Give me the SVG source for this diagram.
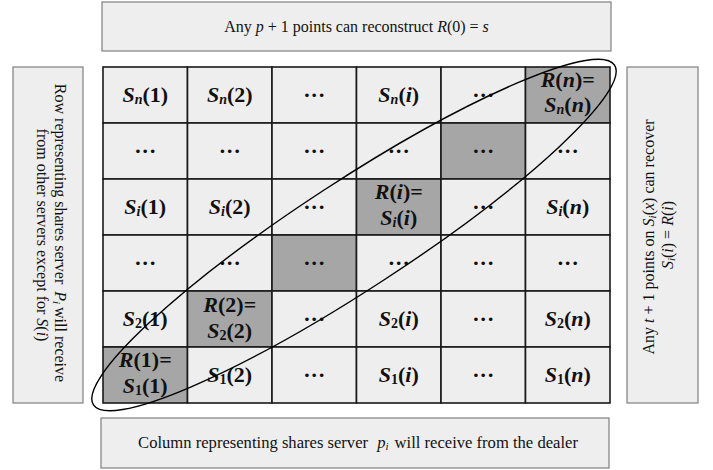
<svg xmlns="http://www.w3.org/2000/svg" width="713" height="470" viewBox="0 0 713 470">
  <style>
    .box { fill: #eeeeee; stroke: #7f7f7f; stroke-width: 1.2; }
    .cell { fill: #eeeeee; stroke: #1a1a1a; stroke-width: 1.6; }
    .key { fill: #a6a6a6; stroke: #1a1a1a; stroke-width: 1.6; }
    .c { font-family: "Liberation Serif", "Times New Roman", serif; font-size: 22px; font-weight: bold; text-anchor: middle; fill: #111; }
    .t { font-family: "Liberation Serif", "Times New Roman", serif; font-size: 16px; text-anchor: middle; fill: #111; }
    .i { font-style: italic; }
    .sb { font-size: 14px; }
    .ts { font-size: 11px; }
    .ring { fill: none; stroke: #000; stroke-width: 1.4; }
  </style>

  <!-- caption boxes -->
  <g id="top-note">
    <rect class="box" x="102" y="2" width="509" height="49"/>
    <text class="t" x="356.5" y="32">Any <tspan class="i">p</tspan> + 1 points can reconstruct <tspan class="i">R</tspan>(0) = <tspan class="i">s</tspan></text>
  </g>
  <g id="bottom-note">
    <rect class="box" x="101" y="418" width="508" height="50"/>
    <text class="t" x="358" y="448" style="font-size:16.6px">Column representing shares server <tspan class="i" dx="5">p</tspan><tspan class="i ts" dy="2">i</tspan><tspan dy="-2" dx="6">will receive from the dealer</tspan></text>
  </g>
  <g id="left-note">
    <rect class="box" x="13" y="67" width="70" height="336"/>
    <text class="t" transform="translate(55,235) rotate(90)">
      <tspan x="0" y="0">Row representing shares server <tspan class="i" dx="3">P</tspan><tspan class="i ts" dy="2">i</tspan><tspan dy="-2" dx="3">will receive</tspan></tspan>
      <tspan x="0" y="18">from other servers except for <tspan class="i">S</tspan>(<tspan class="i">i</tspan>)</tspan>
    </text>
  </g>
  <g id="right-note">
    <rect class="box" x="627" y="67" width="71" height="336"/>
    <text class="t" transform="translate(654,235) rotate(-90)">
      <tspan x="0" y="0">Any <tspan class="i">t</tspan> + 1 points on <tspan class="i">S</tspan><tspan class="i ts" dy="2">i</tspan><tspan dy="-2">(</tspan><tspan class="i">x</tspan>) can recover</tspan>
      <tspan x="0" y="19"><tspan class="i">S</tspan><tspan class="i ts" dy="2">i</tspan><tspan dy="-2">(</tspan><tspan class="i">i</tspan>) = <tspan class="i">R</tspan>(<tspan class="i">i</tspan>)</tspan>
    </text>
  </g>

  <!-- share matrix: columns 84.5 wide from x=103, rows 56 high from y=67 -->
  <g id="row-n">
    <g id="cell-n-1"><rect class="cell" x="103" y="67" width="84.5" height="56"/><text class="c" x="145.25" y="102"><tspan class="i">S</tspan><tspan class="i sb" dy="2">n</tspan><tspan dy="-2">(1)</tspan></text></g>
    <g id="cell-n-2"><rect class="cell" x="187.5" y="67" width="84.5" height="56"/><text class="c" x="229.75" y="102"><tspan class="i">S</tspan><tspan class="i sb" dy="2">n</tspan><tspan dy="-2">(2)</tspan></text></g>
    <g id="cell-n-3"><rect class="cell" x="272" y="67" width="84.5" height="56"/><text class="c" x="314.25" y="102">···</text></g>
    <g id="cell-n-i"><rect class="cell" x="356.5" y="67" width="84.5" height="56"/><text class="c" x="398.75" y="102"><tspan class="i">S</tspan><tspan class="i sb" dy="2">n</tspan><tspan dy="-2">(</tspan><tspan class="i">i</tspan>)</text></g>
    <g id="cell-n-5"><rect class="cell" x="441" y="67" width="84.5" height="56"/><text class="c" x="483.25" y="102">···</text></g>
    <g id="cell-n-n"><rect class="key" x="525.5" y="67" width="84.5" height="56"/>
      <text class="c" x="567.75" y="87"><tspan class="i">R</tspan>(<tspan class="i">n</tspan>)=</text>
      <text class="c" x="567.75" y="112"><tspan class="i">S</tspan><tspan class="i sb" dy="2">n</tspan><tspan dy="-2">(</tspan><tspan class="i">n</tspan>)</text></g>
  </g>

  <g id="row-b">
    <g id="cell-b-1"><rect class="cell" x="103" y="123" width="84.5" height="56"/><text class="c" x="145.25" y="158">···</text></g>
    <g id="cell-b-2"><rect class="cell" x="187.5" y="123" width="84.5" height="56"/><text class="c" x="229.75" y="158">···</text></g>
    <g id="cell-b-3"><rect class="cell" x="272" y="123" width="84.5" height="56"/><text class="c" x="314.25" y="158">···</text></g>
    <g id="cell-b-4"><rect class="cell" x="356.5" y="123" width="84.5" height="56"/><text class="c" x="398.75" y="158">···</text></g>
    <g id="cell-b-5"><rect class="key" x="441" y="123" width="84.5" height="56"/><text class="c" x="483.25" y="158">···</text></g>
    <g id="cell-b-6"><rect class="cell" x="525.5" y="123" width="84.5" height="56"/><text class="c" x="567.75" y="158">···</text></g>
  </g>

  <g id="row-i">
    <g id="cell-i-1"><rect class="cell" x="103" y="179" width="84.5" height="56"/><text class="c" x="145.25" y="214"><tspan class="i">S</tspan><tspan class="i sb" dy="2">i</tspan><tspan dy="-2">(1)</tspan></text></g>
    <g id="cell-i-2"><rect class="cell" x="187.5" y="179" width="84.5" height="56"/><text class="c" x="229.75" y="214"><tspan class="i">S</tspan><tspan class="i sb" dy="2">i</tspan><tspan dy="-2">(2)</tspan></text></g>
    <g id="cell-i-3"><rect class="cell" x="272" y="179" width="84.5" height="56"/><text class="c" x="314.25" y="214">···</text></g>
    <g id="cell-i-i"><rect class="key" x="356.5" y="179" width="84.5" height="56"/>
      <text class="c" x="398.75" y="199"><tspan class="i">R</tspan>(<tspan class="i">i</tspan>)=</text>
      <text class="c" x="398.75" y="225"><tspan class="i">S</tspan><tspan class="i sb" dy="2">i</tspan><tspan dy="-2">(</tspan><tspan class="i">i</tspan>)</text></g>
    <g id="cell-i-5"><rect class="cell" x="441" y="179" width="84.5" height="56"/><text class="c" x="483.25" y="214">···</text></g>
    <g id="cell-i-n"><rect class="cell" x="525.5" y="179" width="84.5" height="56"/><text class="c" x="567.75" y="214"><tspan class="i">S</tspan><tspan class="i sb" dy="2">i</tspan><tspan dy="-2">(</tspan><tspan class="i">n</tspan>)</text></g>
  </g>

  <g id="row-d">
    <g id="cell-d-1"><rect class="cell" x="103" y="235" width="84.5" height="56"/><text class="c" x="145.25" y="270">···</text></g>
    <g id="cell-d-2"><rect class="cell" x="187.5" y="235" width="84.5" height="56"/><text class="c" x="229.75" y="270">···</text></g>
    <g id="cell-d-3"><rect class="key" x="272" y="235" width="84.5" height="56"/><text class="c" x="314.25" y="270">···</text></g>
    <g id="cell-d-4"><rect class="cell" x="356.5" y="235" width="84.5" height="56"/><text class="c" x="398.75" y="270">···</text></g>
    <g id="cell-d-5"><rect class="cell" x="441" y="235" width="84.5" height="56"/><text class="c" x="483.25" y="270">···</text></g>
    <g id="cell-d-6"><rect class="cell" x="525.5" y="235" width="84.5" height="56"/><text class="c" x="567.75" y="270">···</text></g>
  </g>

  <g id="row-2">
    <g id="cell-2-1"><rect class="cell" x="103" y="291" width="84.5" height="56"/><text class="c" x="145.25" y="326"><tspan class="i">S</tspan><tspan class="sb" dy="2">2</tspan><tspan dy="-2">(1)</tspan></text></g>
    <g id="cell-2-2"><rect class="key" x="187.5" y="291" width="84.5" height="56"/>
      <text class="c" x="229.75" y="312"><tspan class="i">R</tspan>(2)=</text>
      <text class="c" x="229.75" y="338"><tspan class="i">S</tspan><tspan class="sb" dy="2">2</tspan><tspan dy="-2">(2)</tspan></text></g>
    <g id="cell-2-3"><rect class="cell" x="272" y="291" width="84.5" height="56"/><text class="c" x="314.25" y="326">···</text></g>
    <g id="cell-2-i"><rect class="cell" x="356.5" y="291" width="84.5" height="56"/><text class="c" x="398.75" y="326"><tspan class="i">S</tspan><tspan class="sb" dy="2">2</tspan><tspan dy="-2">(</tspan><tspan class="i">i</tspan>)</text></g>
    <g id="cell-2-5"><rect class="cell" x="441" y="291" width="84.5" height="56"/><text class="c" x="483.25" y="326">···</text></g>
    <g id="cell-2-n"><rect class="cell" x="525.5" y="291" width="84.5" height="56"/><text class="c" x="567.75" y="326"><tspan class="i">S</tspan><tspan class="sb" dy="2">2</tspan><tspan dy="-2">(</tspan><tspan class="i">n</tspan>)</text></g>
  </g>

  <g id="row-1">
    <g id="cell-1-1"><rect class="key" x="103" y="347" width="84.5" height="56"/>
      <text class="c" x="145.25" y="367"><tspan class="i">R</tspan>(1)=</text>
      <text class="c" x="145.25" y="393"><tspan class="i">S</tspan><tspan class="sb" dy="2">1</tspan><tspan dy="-2">(1)</tspan></text></g>
    <g id="cell-1-2"><rect class="cell" x="187.5" y="347" width="84.5" height="56"/><text class="c" x="229.75" y="382"><tspan class="i">S</tspan><tspan class="sb" dy="2">1</tspan><tspan dy="-2">(2)</tspan></text></g>
    <g id="cell-1-3"><rect class="cell" x="272" y="347" width="84.5" height="56"/><text class="c" x="314.25" y="382">···</text></g>
    <g id="cell-1-i"><rect class="cell" x="356.5" y="347" width="84.5" height="56"/><text class="c" x="398.75" y="382"><tspan class="i">S</tspan><tspan class="sb" dy="2">1</tspan><tspan dy="-2">(</tspan><tspan class="i">i</tspan>)</text></g>
    <g id="cell-1-5"><rect class="cell" x="441" y="347" width="84.5" height="56"/><text class="c" x="483.25" y="382">···</text></g>
    <g id="cell-1-n"><rect class="cell" x="525.5" y="347" width="84.5" height="56"/><text class="c" x="567.75" y="382"><tspan class="i">S</tspan><tspan class="sb" dy="2">1</tspan><tspan dy="-2">(</tspan><tspan class="i">n</tspan>)</text></g>
  </g>

  <!-- ring around the diagonal R(k) = S_k(k) cells -->
  <g id="connectors">
    <ellipse class="ring" cx="354" cy="235" rx="311" ry="54" transform="rotate(-33.1 354 235)"/>
  </g>
</svg>
